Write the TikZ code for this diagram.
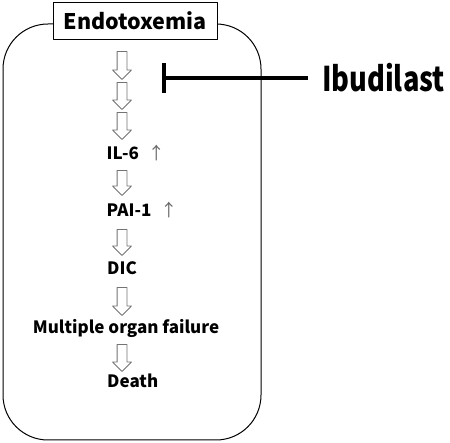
\documentclass[tikz,border=0pt]{standalone}
\usepackage{fontspec}
\setmainfont{Noto Sans CJK JP}
\usetikzlibrary{arrows.meta,shapes.arrows}
\newcommand{\rise}{\hspace{9pt}{\mdseries\color{black!60}↑}}
\begin{document}
\begin{tikzpicture}[x=1pt,y=-1pt,line join=round,
	label/.style={font=\fontsize{17}{20}\selectfont\bfseries,inner sep=0pt},
	down/.style={single arrow,draw=black!55,fill=white,line width=0.8pt,rotate=-90,
		inner xsep=0pt,inner ysep=4.5pt,single arrow head extend=4.5pt,minimum height=#1},
	inhibit/.style={line width=4pt,-{Bar[width=30pt,line width=4pt]}}]
			\useasboundingbox (0,0) rectangle (450,443);
			\draw[line width=1pt,rounded corners=45pt] (3,24) rectangle (261,440);
			\node[draw,fill=white,line width=0.9pt,minimum width=164pt,minimum height=37pt,inner sep=0pt,
			font=\fontsize{21.5}{25}\selectfont\bfseries] (endo) at (135,20.5) {Endotoxemia};
			\node[down=28pt] (a1) at (122,63) {};
			\node[down=27pt] (a2) at (122,93.5) {};
			\node[down=27pt] (a3) at (122,123.5) {};
			\node[label,anchor=west] (il6) at (106.5,153) {IL-6\rise};
			\node[down=25pt] (a4) at (122,180.5) {};
			\node[label,anchor=west] (pai) at (106.5,210) {PAI-1\rise};
			\node[down=26pt] (a5) at (122,240) {};
			\node[label,anchor=west] (dic) at (107,268) {DIC};
			\node[down=28pt] (a6) at (122,299) {};
			\node[label] (mof) at (126,328) {Multiple organ failure};
			\node[down=27pt] (a7) at (122,355.5) {};
			\node[label,anchor=west] (death) at (107,381) {Death};
			\node[font=\fontsize{34}{40}\selectfont\bfseries,xscale=0.8,inner sep=0pt] (ibu) at (383.5,77.5) {Ibudilast};
			\coordinate (stop) at (162,78);
			\draw[inhibit] (ibu.west|-stop) ++(-14,0) -- (stop);
\end{tikzpicture}
\end{document}
